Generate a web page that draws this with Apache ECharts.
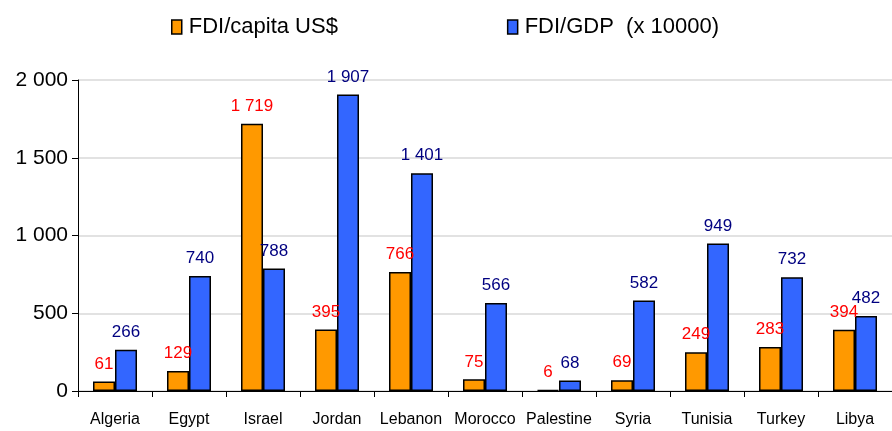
<!DOCTYPE html>
<html>
<head>
<meta charset="utf-8">
<script src="https://cdn.jsdelivr.net/npm/echarts@6/dist/echarts.min.js"></script>
<style>
  html, body { margin: 0; padding: 0; background: #fff; }
  #chart { width: 892px; height: 431px; }
</style>
</head>
<body>
<div id="chart"></div>
<script>
const countries = ['Algeria', 'Egypt', 'Israel', 'Jordan', 'Lebanon', 'Morocco', 'Palestine', 'Syria', 'Tunisia', 'Turkey', 'Libya'];
const fdiPerCapita = [61, 129, 1719, 395, 766, 75, 6, 69, 249, 283, 394];
const fdiPerGdp = [266, 740, 788, 1907, 1401, 566, 68, 582, 949, 732, 482];

const font = 'Liberation Sans, Arial, sans-serif';

// 1 719 style thousands separator
function spaced(v) {
  return String(v).replace(/\B(?=(\d{3})+(?!\d))/g, ' ');
}

const chart = echarts.init(document.getElementById('chart'));

const option = {
  animation: false,
  textStyle: { fontFamily: font },
  legend: {
    top: 11,
    left: 166,
    itemGap: 169,
    itemWidth: 10,
    itemHeight: 14,
    icon: 'rect',
    itemStyle: { borderColor: '#000', borderWidth: 1.5 },
    textStyle: { fontSize: 22, color: '#000', fontFamily: font, padding: [0, 0, 0, 2] },
    data: ['FDI/capita US$', 'FDI/GDP  (x 10000)']
  },
  grid: {
    left: 78,
    right: 0,
    top: 80,
    bottom: 40
  },
  xAxis: {
    type: 'category',
    data: countries,
    axisLine: { lineStyle: { color: '#000', width: 1 } },
    axisTick: { show: true, length: 6, lineStyle: { color: '#000' } },
    axisLabel: { color: '#000', fontSize: 16, margin: 21, fontFamily: font, interval: 0 }
  },
  yAxis: {
    type: 'value',
    min: 0,
    max: 2000,
    interval: 500,
    axisLine: { show: true, lineStyle: { color: '#000', width: 1 } },
    axisTick: { show: true, length: 6, lineStyle: { color: '#000' } },
    axisLabel: { color: '#000', fontSize: 21, margin: 10, fontFamily: font, formatter: spaced },
    splitLine: { lineStyle: { color: '#d9d9d9', width: 1.5 } }
  },
  series: [
    {
      name: 'FDI/capita US$',
      type: 'bar',
      data: fdiPerCapita,
      barWidth: 22,
      barGap: '0%',
      itemStyle: { color: '#FF9900', borderColor: '#000', borderWidth: 1.5 },
      label: {
        show: true,
        position: 'top',
        distance: 9,
        color: '#FF0000',
        fontSize: 17,
        fontFamily: font,
        formatter: p => spaced(p.value)
      }
    },
    {
      name: 'FDI/GDP  (x 10000)',
      type: 'bar',
      data: fdiPerGdp,
      barWidth: 22,
      itemStyle: { color: '#3366FF', borderColor: '#000', borderWidth: 1.5 },
      label: {
        show: true,
        position: 'top',
        distance: 9,
        color: '#000080',
        fontSize: 17,
        fontFamily: font,
        formatter: p => spaced(p.value)
      }
    }
  ]
};

chart.setOption(option);
</script>
</body>
</html>
